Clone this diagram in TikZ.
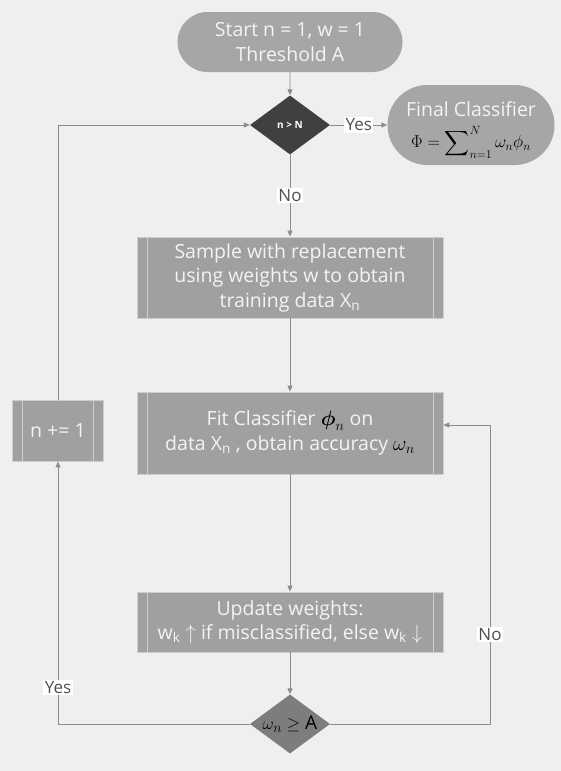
\documentclass[tikz,border=0pt]{standalone}
\usepackage{amsmath}
\usepackage{fontspec}
\setmainfont{Open Sans}
\setsansfont{Open Sans}
\usetikzlibrary{shapes.geometric,shapes.misc,arrows.meta,calc}

\begin{document}
\begin{tikzpicture}[x=1pt,y=-1pt,line cap=round,line join=round,
  flow/.style={draw=flowline,line width=0.9pt,-{Triangle[length=6pt,width=5pt]}},
  pill/.style={rounded rectangle,fill=pillgray,text=boxtext,inner sep=0pt,align=center,font=\fontsize{19.5}{25}\selectfont},
  procbox/.style={rectangle,fill=boxgray,draw=boxedge,line width=0.8pt,text=boxtext,inner sep=0pt,
    minimum width=306pt,align=center,font=\fontsize{19.5}{24.5}\selectfont,
    path picture={\draw[boxedge,line width=0.8pt]
      ([xshift=10pt]path picture bounding box.north west) -- ([xshift=10pt]path picture bounding box.south west)
      ([xshift=-10pt]path picture bounding box.north east) -- ([xshift=-10pt]path picture bounding box.south east);}},
  decision/.style={diamond,aspect=1.35,inner sep=0pt,minimum width=80pt,minimum height=59pt},
  lbl/.style={fill=white,inner sep=1.5pt,text=labeltext,font=\fontsize{17}{20}\selectfont}]
  \definecolor{paper}{RGB}{239,239,239}
  \definecolor{pillgray}{RGB}{166,166,166}
  \definecolor{boxgray}{RGB}{160,160,160}
  \definecolor{boxedge}{RGB}{206,206,206}
  \definecolor{boxtext}{RGB}{244,244,244}
  \definecolor{flowline}{RGB}{140,140,140}
  \definecolor{darkdiamond}{RGB}{64,64,64}
  \definecolor{middiamond}{RGB}{125,125,125}
  \definecolor{labeltext}{RGB}{80,80,80}

  % page
  \fill[paper] (0,0) rectangle (561,771);
  \useasboundingbox (0,0) rectangle (561,771);

  % start and stop
  \node[pill,minimum width=225pt,minimum height=60pt] (start) at (290,42) {Start n = 1, w = 1\\Threshold A};
  \node[pill,minimum width=167pt,minimum height=80pt,font=\fontsize{19.5}{31}\selectfont] (final) at (471,125)
    {Final Classifier\\{\color{black}\fontsize{18.5}{22}\selectfont\smash{$\Phi = \displaystyle\sum\nolimits_{n=1}^{N} \omega_n \phi_n$}}};

  % decisions
  \node[decision,fill=darkdiamond,text=white,font=\bfseries\fontsize{10}{11}\selectfont] (check) at (290,125) {n > N};
  \node[decision,fill=middiamond,text=black,font=\fontsize{19}{20}\selectfont] (good) at (290,724) {$\omega_n \geq \mathrm{A}$};

  % process steps
  \node[procbox,minimum height=81pt] (sample) at (290,277.5)
    {Sample with replacement\\using weights w to obtain\\training data X\textsubscript{n}};
  \node[procbox,minimum height=82pt] (fit) at (290,433)
    {Fit Classifier {\color{black}$\boldsymbol{\phi}_n$} on\\data X\textsubscript{n} , obtain accuracy\ {\color{black}$\omega_n$}};
  \node[procbox,minimum height=60pt] (update) at (290,622)
    {Update weights:\\w\textsubscript{k} $\uparrow$ if misclassified, else w\textsubscript{k} $\downarrow$};
  \node[procbox,minimum width=91pt,minimum height=61pt] (inc) at (58,430.5) {n += 1};

  % connectors
  \coordinate (noturn) at (490,425);
  \draw[flow] (start) -- (check);
  \draw[flow] (check) -- node[lbl] {Yes} (final);
  \draw[flow] (check) -- node[lbl] {No} (sample);
  \draw[flow] (sample) -- (fit);
  \draw[flow] (fit) -- (update);
  \draw[flow] (update) -- (good);
  \draw[flow] (good.east) -| node[lbl,pos=0.65] {No} (noturn) -- (fit.east |- noturn);
  \draw[flow] (good.west) -| node[lbl,pos=0.57] {Yes} (inc.south);
  \draw[flow] (inc.north) |- (check.west);
\end{tikzpicture}
\end{document}
